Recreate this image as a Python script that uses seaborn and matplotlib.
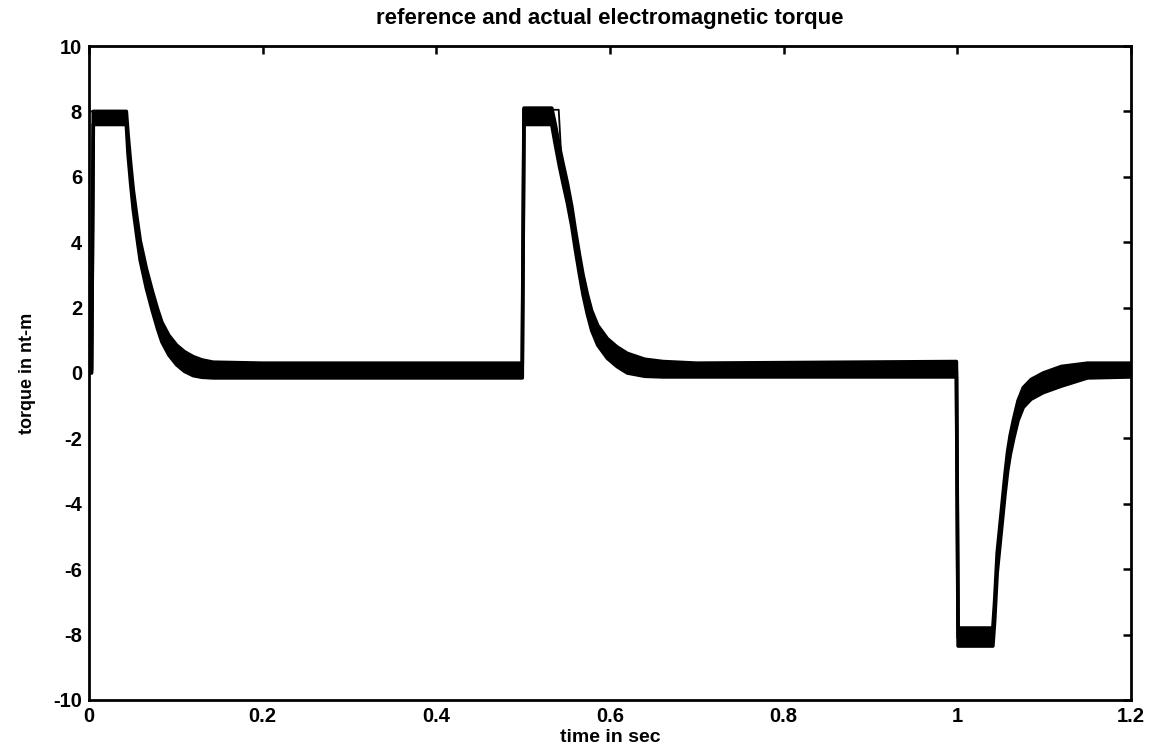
import matplotlib
matplotlib.use("Agg")
import matplotlib.pyplot as plt
import seaborn as sns
import pandas as pd

# Reference (commanded) electromagnetic torque, N-m
t_ref = [0.000, 0.000, 0.043, 0.045, 0.048, 0.051, 0.055, 0.059, 0.066, 0.073,
         0.079, 0.084, 0.092, 0.101, 0.110, 0.120, 0.130, 0.143, 0.200, 0.500,
         0.500, 0.541, 0.544, 0.546, 0.551, 0.556, 0.560, 0.565, 0.569, 0.574,
         0.579, 0.586, 0.597, 0.608, 0.620, 0.640, 0.661, 0.700, 1.000, 1.000,
         1.042, 1.043, 1.046, 1.049, 1.052, 1.055, 1.058, 1.061, 1.065, 1.070,
         1.076, 1.085, 1.099, 1.120, 1.150, 1.200]
torque_ref = [0.0, 8.0, 8.0, 7.0, 6.1, 5.3, 4.5, 3.75, 2.9, 2.2,
              1.65, 1.25, 0.85, 0.55, 0.35, 0.2, 0.12, 0.08, 0.08, 0.08,
              8.05, 8.05, 6.6, 6.1, 5.5, 4.8, 4.1, 3.3, 2.7, 2.1,
              1.6, 1.15, 0.75, 0.5, 0.3, 0.15, 0.08, 0.08, 0.08, -8.1,
              -8.1, -7.3, -5.8, -5.0, -4.2, -3.4, -2.7, -2.2, -1.7, -1.15,
              -0.75, -0.5, -0.3, -0.12, 0.05, 0.08]

# Actual torque: upper and lower envelope of the switching ripple
t_act = [0.000, 0.003, 0.005, 0.043, 0.045, 0.048, 0.051, 0.055, 0.059, 0.066,
         0.073, 0.079, 0.084, 0.092, 0.101, 0.110, 0.120, 0.130, 0.143, 0.200,
         0.499, 0.501, 0.533, 0.537, 0.542, 0.546, 0.551, 0.556, 0.560, 0.565,
         0.569, 0.574, 0.579, 0.586, 0.597, 0.608, 0.620, 0.640, 0.661, 0.700,
         0.999, 1.001, 1.041, 1.043, 1.046, 1.049, 1.052, 1.055, 1.058, 1.061,
         1.065, 1.070, 1.076, 1.085, 1.099, 1.120, 1.150, 1.200]
torque_hi = [0.1, 0.1, 8.0, 8.0, 7.3, 6.4, 5.6, 4.8, 4.05, 3.2,
             2.5, 1.95, 1.55, 1.15, 0.85, 0.65, 0.5, 0.4, 0.33, 0.3,
             0.3, 8.1, 8.1, 7.6, 6.9, 6.4, 5.8, 5.1, 4.4, 3.6,
             3.0, 2.4, 1.9, 1.45, 1.05, 0.8, 0.6, 0.42, 0.35, 0.3,
             0.35, -7.8, -7.8, -7.0, -5.5, -4.7, -3.9, -3.1, -2.4, -1.9,
             -1.4, -0.85, -0.45, -0.2, 0.0, 0.2, 0.3, 0.3]
torque_lo = [0.0, 0.0, 7.6, 7.6, 6.7, 5.8, 5.0, 4.2, 3.45, 2.6,
             1.9, 1.35, 0.95, 0.55, 0.25, 0.05, -0.08, -0.13, -0.15, -0.15,
             -0.15, 7.6, 7.6, 7.0, 6.3, 5.8, 5.2, 4.5, 3.8, 3.0,
             2.4, 1.8, 1.3, 0.85, 0.45, 0.2, 0.0, -0.1, -0.12, -0.12,
             -0.12, -8.35, -8.35, -7.6, -6.1, -5.3, -4.5, -3.7, -3.0, -2.5,
             -2.0, -1.45, -1.05, -0.8, -0.6, -0.4, -0.15, -0.12]

x_ticks = [0, 0.2, 0.4, 0.6, 0.8, 1, 1.2]
x_ticklabels = ["0", "0.2", "0.4", "0.6", "0.8", "1", "1.2"]
y_ticks = [-10, -8, -6, -4, -2, 0, 2, 4, 6, 8, 10]
y_ticklabels = ["-10", "-8", "-6", "-4", "-2", "0", "2", "4", "6", "8", "10"]

sns.set_theme(style="white")
plt.rcParams["font.family"] = ["Liberation Sans", "DejaVu Sans"]
plt.rcParams["font.weight"] = "bold"
plt.rcParams["text.color"] = "black"
plt.rcParams["axes.labelcolor"] = "black"

ref_df = pd.DataFrame({"t": t_ref, "torque": torque_ref})
act_df = pd.DataFrame({"t": t_act, "hi": torque_hi, "lo": torque_lo})

fig = plt.figure(figsize=(11.54, 7.48), dpi=100)
ax = fig.add_axes([0.0771, 0.0642, 0.9029, 0.8743])

# ripple band of the measured torque, outlined so steep edges keep their width
ax.fill_between(act_df["t"], act_df["lo"], act_df["hi"], color="black", lw=0)
sns.lineplot(data=act_df, x="t", y="hi", ax=ax, color="black", lw=2.6,
             estimator=None, sort=False)
sns.lineplot(data=act_df, x="t", y="lo", ax=ax, color="black", lw=2.6,
             estimator=None, sort=False)
# thin commanded-torque trace on top
sns.lineplot(data=ref_df, x="t", y="torque", ax=ax, color="black", lw=1.3,
             estimator=None, sort=False)

ax.set_xlim(0, 1.2)
ax.set_ylim(-10, 10)
ax.set_xticks(x_ticks)
ax.set_xticklabels(x_ticklabels)
ax.set_yticks(y_ticks)
ax.set_yticklabels(y_ticklabels)
ax.tick_params(direction="in", length=6, width=1.8, top=True, right=True,
               labelsize=14.5, pad=5, colors="black")
for lab in ax.get_xticklabels() + ax.get_yticklabels():
    lab.set_fontweight("bold")
for sp in ax.spines.values():
    sp.set_visible(True)
    sp.set_color("black")
    sp.set_linewidth(2.0)

ax.set_title("reference and actual electromagnetic torque", fontsize=16,
             fontweight="bold", pad=16, color="black")
ax.set_xlabel("time in sec", fontsize=14, fontweight="bold", labelpad=2)
ax.set_ylabel("torque in nt-m", fontsize=13, fontweight="bold", labelpad=12)

fig.savefig("out.png", dpi=100, facecolor="white")
